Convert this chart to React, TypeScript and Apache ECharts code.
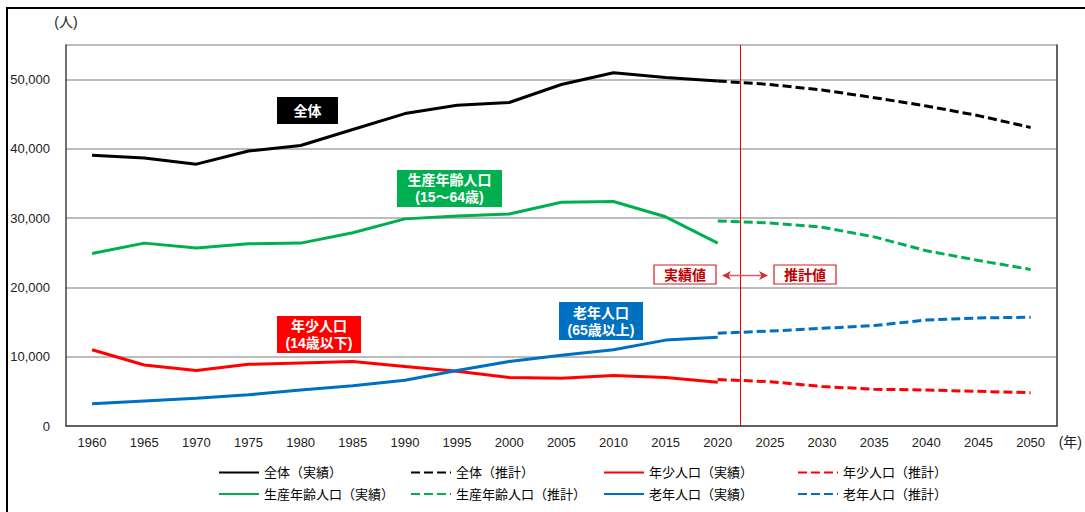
import React, { useEffect, useRef } from "react";
import * as echarts from "echarts";

const years = ["1960","1965","1970","1975","1980","1985","1990","1995","2000","2005","2010","2015","2020","2025","2030","2035","2040","2045","2050"];

// Actual values 1960-2020
const totalActual = [39100, 38700, 37800, 39700, 40500, 42800, 45100, 46300, 46700, 49300, 51000, 50300, 49800];
const workingActual = [24900, 26400, 25700, 26300, 26400, 27900, 29900, 30300, 30600, 32300, 32400, 30200, 26400];
const youngActual = [11000, 8800, 8000, 8900, 9100, 9300, 8600, 7900, 7000, 6900, 7300, 7000, 6300];
const elderlyActual = [3200, 3600, 4000, 4500, 5200, 5800, 6600, 8000, 9300, 10200, 11000, 12400, 12800];

// Estimated values 2020-2050
const totalEst = [49800, 49300, 48500, 47400, 46200, 44800, 43100];
const workingEst = [29600, 29300, 28700, 27300, 25300, 23900, 22600];
const youngEst = [6700, 6400, 5700, 5300, 5200, 5000, 4800];
const elderlyEst = [13400, 13700, 14100, 14500, 15300, 15600, 15700];

const dividerYear = 2022.2;

const legendCols = [
  ["全体（実績）", "生産年齢人口（実績）"],
  ["全体（推計）", "生産年齢人口（推計）"],
  ["年少人口（実績）", "老年人口（実績）"],
  ["年少人口（推計）", "老年人口（推計）"],
];

const FONT = "'Liberation Sans', 'Noto Sans CJK JP', sans-serif";

export default function App() {
  const ref = useRef<HTMLDivElement>(null);
  useEffect(() => {
    if (!ref.current) return;
    const chart = echarts.init(ref.current, null, { renderer: "svg" });
    const padFront = (arr: number[]) => [...Array(years.length - arr.length).fill(null), ...arr];
    const padBack = (arr: number[]) => [...arr, ...Array(years.length - arr.length).fill(null)];
    const mk = (name: string, color: string, data: (number | null)[], dashed: boolean) => ({
      name,
      type: "line",
      data,
      symbol: "none",
      showSymbol: false,
      connectNulls: false,
      lineStyle: { color, width: 3, type: dashed ? [9, 4] : "solid" },
      itemStyle: { color },
      z: 3,
    });
    const BLACK = "#000000", GREEN = "#00B050", RED = "#FF0000", BLUE = "#0070C0";
    const boxText = (x: number, y: number, text: string) => ({
      type: "text",
      x, y,
      z: 100,
      style: {
        text,
        fill: "#ffffff",
        font: `bold 14px ${FONT}`,
        textAlign: "center",
        textVerticalAlign: "middle",
        align: "center",
        verticalAlign: "middle",
        lineHeight: 17,
      },
    });
    const option: any = {
      animation: false,
      textStyle: { fontFamily: FONT },
      grid: { left: 66, right: 24, top: 45, bottom: 86, containLabel: false },
      xAxis: [
        {
          type: "category",
          data: years,
          boundaryGap: true,
          axisLine: { show: true, lineStyle: { color: "#404040", width: 1.5 } },
          axisTick: { show: false },
          axisLabel: { interval: 0, color: "#222", fontSize: 13, margin: 10, fontFamily: FONT },
          splitLine: { show: false },
          name: "(年)",
          nameLocation: "end",
          nameGap: 2,
          nameTextStyle: { color: "#222", fontSize: 14, verticalAlign: "top", align: "left", padding: [9, 0, 0, 0], fontFamily: FONT },
        },
        { type: "value", min: 1957.5, max: 2052.5, show: false },
      ],
      yAxis: [
        {
          type: "value",
          min: 0,
          max: 55000,
          interval: 10000,
          axisLine: { show: true, lineStyle: { color: "#404040", width: 1.5 } },
          axisTick: { show: false },
          axisLabel: {
            color: "#222",
            fontSize: 13,
            margin: 16,
            fontFamily: FONT,
            formatter: (v: number) => (v > 50000 ? "" : v.toLocaleString("en-US")),
          },
          splitLine: { show: true, lineStyle: { color: "#a6a6a6", width: 1.5 } },
          name: "(人)",
          nameLocation: "end",
          nameGap: 16,
          nameTextStyle: { color: "#222", fontSize: 14, align: "center", fontFamily: FONT },
        },
        {
          type: "value",
          position: "right",
          min: 0,
          max: 55000,
          interval: 10000,
          axisLine: { show: true, lineStyle: { color: "#303030", width: 1.5 } },
          axisTick: { show: false },
          axisLabel: { show: false },
          splitLine: { show: false },
        },
      ],
      legend: legendCols.map((names, i) => ({
        orient: "vertical",
        left: [218, 410, 603, 797][i],
        top: 466,
        padding: 0,
        itemWidth: 40,
        itemHeight: 14,
        itemGap: 8.5,
        data: names,
        selectedMode: false,
        itemStyle: { opacity: 0 },
        textStyle: { fontSize: 13, color: "#000", fontFamily: FONT },
      })),
      series: [
        mk("全体（実績）", BLACK, padBack(totalActual), false),
        mk("全体（推計）", BLACK, padFront(totalEst), true),
        mk("年少人口（実績）", RED, padBack(youngActual), false),
        mk("年少人口（推計）", RED, padFront(youngEst), true),
        mk("生産年齢人口（実績）", GREEN, padBack(workingActual), false),
        mk("生産年齢人口（推計）", GREEN, padFront(workingEst), true),
        mk("老年人口（実績）", BLUE, padBack(elderlyActual), false),
        mk("老年人口（推計）", BLUE, padFront(elderlyEst), true),
        {
          name: "divider",
          type: "line",
          xAxisIndex: 1,
          yAxisIndex: 0,
          data: [],
          silent: true,
          markLine: {
            silent: true,
            symbol: "none",
            label: { show: false },
            lineStyle: { color: "#E00000", width: 1, type: "solid" },
            data: [{ xAxis: dividerYear }],
          },
        },
      ],
      graphic: [
        { type: "rect", shape: { x: 7, y: 8, width: 1100, height: 530 }, style: { fill: "none", stroke: "#000", lineWidth: 2 }, z: 50, silent: true },
        // 全体
        { type: "rect", shape: { x: 277, y: 97, width: 61, height: 27 }, style: { fill: "#000000" }, z: 90 },
        boxText(307.5, 110.5, "全体"),
        // 生産年齢人口
        { type: "rect", shape: { x: 397, y: 170, width: 105, height: 37 }, style: { fill: GREEN }, z: 90 },
        boxText(449.5, 188.5, "生産年齢人口\n(15～64歳)"),
        // 年少人口
        { type: "rect", shape: { x: 277, y: 316, width: 84, height: 37 }, style: { fill: RED }, z: 90 },
        boxText(319, 334.5, "年少人口\n(14歳以下)"),
        // 老年人口
        { type: "rect", shape: { x: 559, y: 302, width: 84, height: 38 }, style: { fill: BLUE }, z: 90 },
        boxText(601, 321, "老年人口\n(65歳以上)"),
        // 実績値 / 推計値
        { type: "rect", shape: { x: 654, y: 265, width: 62, height: 19 }, style: { fill: "#fff", stroke: "#D02020", lineWidth: 1.2 }, z: 90 },
        { type: "text", x: 685, y: 275, z: 100, style: { text: "実績値", fill: "#C00000", font: `bold 14px ${FONT}`, textAlign: "center", textVerticalAlign: "middle", align: "center", verticalAlign: "middle" } },
        { type: "rect", shape: { x: 774, y: 265, width: 62, height: 19 }, style: { fill: "#fff", stroke: "#D02020", lineWidth: 1.2 }, z: 90 },
        { type: "text", x: 805, y: 275, z: 100, style: { text: "推計値", fill: "#C00000", font: `bold 14px ${FONT}`, textAlign: "center", textVerticalAlign: "middle", align: "center", verticalAlign: "middle" } },
        // arrow
        { type: "line", shape: { x1: 726, y1: 275.5, x2: 764, y2: 275.5 }, style: { stroke: "#E06060", lineWidth: 1.5 }, z: 90 },
        { type: "polygon", shape: { points: [[722, 275.5], [731, 271], [728.5, 275.5], [731, 280]] }, style: { fill: "#D03030" }, z: 91 },
        { type: "polygon", shape: { points: [[768, 275.5], [759, 271], [761.5, 275.5], [759, 280]] }, style: { fill: "#D03030" }, z: 91 },
      ],
    };
    chart.setOption(option);
    return () => chart.dispose();
  }, []);
  return <div ref={ref} style={{ position: "absolute", left: 0, top: 0, width: 1085, height: 512, background: "#fff" }} />;
}
